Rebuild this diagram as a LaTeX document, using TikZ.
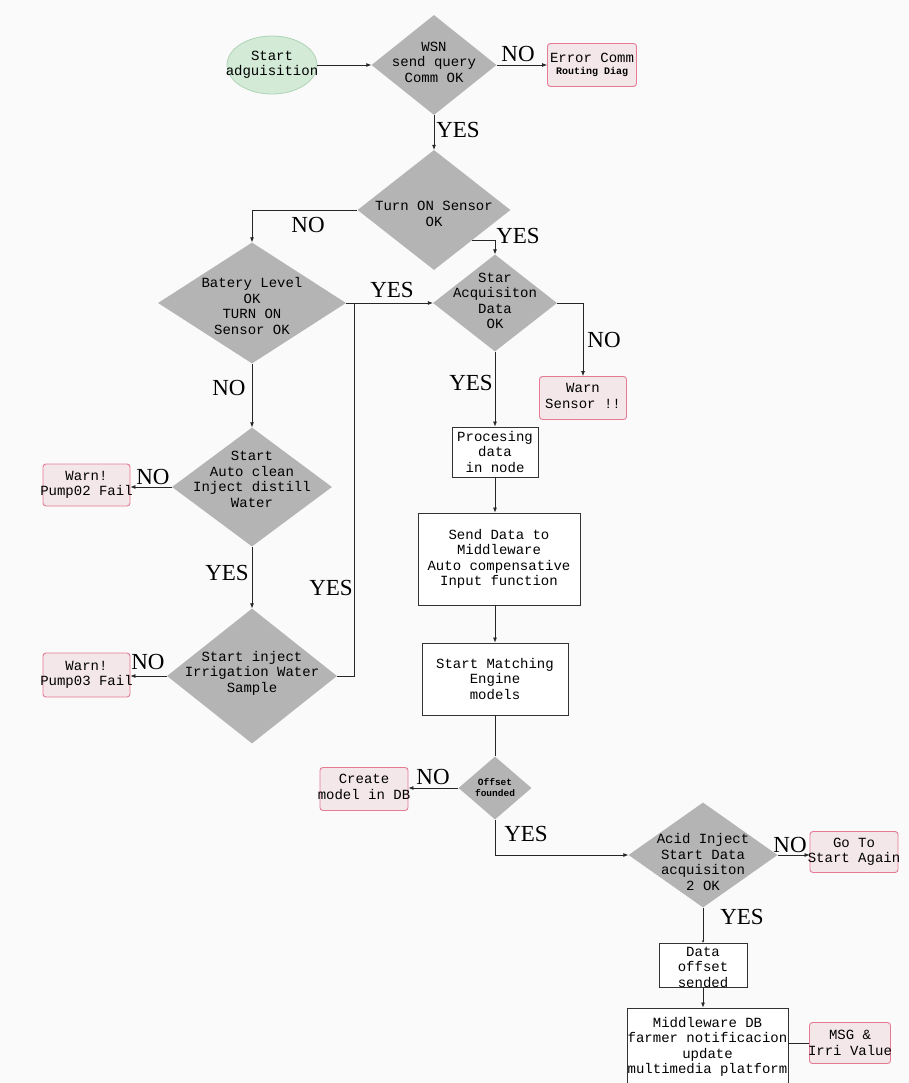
\documentclass[tikz,border=0pt]{standalone}
\usepackage{fontspec}
\usetikzlibrary{shapes.geometric,arrows.meta,calc}
\newfontfamily\monof{Liberation Mono}
\newfontfamily\ynf{Liberation Serif}
\definecolor{diagray}{HTML}{B4B4B4}
\definecolor{pinkb}{HTML}{E57A95}
\definecolor{pinkf}{HTML}{F3E7E9}
\definecolor{greenf}{HTML}{D3EAD7}
\definecolor{greenb}{HTML}{AFD3B8}
\definecolor{bgc}{HTML}{FAFAFA}
\begin{document}
\begin{tikzpicture}[x=1pt,y=-1pt,
  txt/.style={font=\monof\fontsize{14}{15.5}\selectfont, align=center, text=black},
  stxt/.style={font=\monof\fontsize{9.5}{11}\selectfont\bfseries, align=center, text=black},
  dia/.style={diamond, fill=diagray, draw=none, inner sep=0pt},
  pbox/.style={rectangle, rounded corners=3pt, draw=pinkb, fill=pinkf, line width=0.9pt, inner sep=0pt},
  wbox/.style={rectangle, draw=black!80, fill=white, line width=0.9pt, inner sep=0pt},
  yn/.style={font=\ynf\fontsize{23}{23}\selectfont, text=black},
  arr/.style={-{Latex[length=5pt,width=4pt]}, line width=0.7pt, draw=black!85},
  ln/.style={line width=0.7pt, draw=black!85}
]
\fill[bgc] (0,0) rectangle (909,1083);
\useasboundingbox (0,0) rectangle (909,1083);

% nodes
\node[ellipse, fill=greenf, draw=greenb, line width=0.8pt, minimum width=90, minimum height=58, inner sep=0pt,
  label={[txt]center:Start\\adguisition}] (start) at (272,65) {};
\node[dia, minimum width=125, minimum height=100, label={[txt, yshift=3pt]center:WSN\\send query\\Comm OK}] (wsn) at (434,65) {};
\node[pbox, minimum width=89, minimum height=43,
  label={[txt]center:Error Comm\\[-3pt]{\fontsize{10}{11}\selectfont\bfseries Routing Diag}}] (err) at (592,65) {};
\node[dia, minimum width=153, minimum height=120, label={[txt, yshift=-4pt]center:Turn ON Sensor\\OK}] (turn) at (434,210) {};
\node[dia, minimum width=188, minimum height=121, label={[txt, yshift=-3pt]center:Batery Level\\OK\\TURN ON\\Sensor OK}] (bat) at (252,303) {};
\node[dia, minimum width=124, minimum height=97, label={[txt, yshift=2pt]center:Star\\Acquisiton\\Data\\OK}] (star) at (495,303) {};
\node[pbox, minimum width=87, minimum height=43, label={[txt, yshift=2pt]center:Warn\\Sensor !!}] (warns) at (583,398) {};
\node[wbox, minimum width=86, minimum height=50, label={[txt]center:Procesing\\data\\in node}] (proc) at (495,452) {};
\node[wbox, minimum width=162, minimum height=92, label={[txt]center:Send Data to\\Middleware\\Auto compensative\\Input function}] (send) at (499,559) {};
\node[wbox, minimum width=146, minimum height=72, label={[txt]center:Start Matching\\Engine\\models}] (match) at (495,679) {};
\node[dia, minimum width=73, minimum height=63, label={[stxt]center:Offset\\founded}] (off) at (495,788) {};
\node[pbox, minimum width=88, minimum height=43, label={[txt, yshift=2pt]center:Create\\model in DB}] (create) at (364,789) {};
\node[dia, minimum width=149, minimum height=105, label={[txt, yshift=-7pt]center:Acid Inject\\Start Data\\acquisiton\\2 OK}] (acid) at (703,855) {};
\node[pbox, minimum width=88, minimum height=41, label={[txt]center:Go To\\Start Again}] (goto) at (854,852) {};
\node[wbox, minimum width=88, minimum height=44, label={[txt, yshift=-2pt]center:Data\\offset\\sended}] (data) at (703,965) {};
\node[wbox, minimum width=161, minimum height=90, label={[txt, yshift=6pt]center:Middleware DB\\farmer notificacion\\update\\multimedia platform}] (mw) at (707.5,1053) {};
\node[pbox, minimum width=81, minimum height=41, label={[txt]center:MSG \&\\Irri Value}] (msg) at (850,1043) {};
\node[dia, minimum width=160, minimum height=119, label={[txt, yshift=7.5pt]center:Start\\Auto clean\\Inject distill\\Water}] (clean) at (252,487) {};
\node[pbox, minimum width=87, minimum height=42, label={[txt]center:Warn!\\Pump02 Fail}] (p2) at (86.5,485) {};
\node[dia, minimum width=170, minimum height=135, label={[txt, yshift=3pt]center:Start inject\\Irrigation Water\\Sample}] (inj) at (252,676) {};
\node[pbox, minimum width=87, minimum height=44, label={[txt]center:Warn!\\Pump03 Fail}] (p3) at (86.5,675) {};
\coordinate (j) at (354,303);

% connectors
\draw[arr] (start.east) -- (wsn.west);
\draw[arr] (wsn.east) -- (err.west);
\draw[arr] (wsn.south) -- (turn.north);
\draw[arr] (turn.west) -| (bat.north);
\draw[arr] (turn.south east) -| (star.north);
\draw[arr] (bat.east) -- (star.west);
\draw[arr] (star.east) -| (warns.north);
\draw[arr] (star.south) -- (proc.north);
\draw[arr] (proc.south) -- (proc.south |- send.north);
\draw[arr] (proc.south |- send.south) -- (match.north);
\draw[ln] (match.south) -- (off.north);
\draw[arr] (off.west) -- (create.east |- off.west);
\draw[arr] (off.south) |- (acid.west);
\draw[arr] (acid.east) -- (acid.east -| goto.west);
\draw[-{Latex[length=2pt,width=3pt]}, line width=0.7pt, draw=black!85] (acid.south) -- (data.north);
\draw[arr] (data.south) -- (data.south |- mw.north);
\draw[ln] (msg.west) -- (msg.west -| mw.east);
\draw[arr] (bat.south) -- (clean.north);
\draw[arr] (clean.west) -- (p2.east |- clean.west);
\draw[arr] (clean.south) -- (inj.north);
\draw[arr] (inj.west) -- (p3.east |- inj.west);
\draw[ln] (inj.east) -| (j);

% labels
\node[yn] (l1) at (518,54) {NO};
\node[yn] (l2) at (458,130) {YES};
\node[yn] (l3) at (308,225) {NO};
\node[yn] (l4) at (518,236) {YES};
\node[yn] (l5) at (392,290) {YES};
\node[yn] (l6) at (604,340) {NO};
\node[yn] (l7) at (471,383) {YES};
\node[yn] (l8) at (229,388) {NO};
\node[yn] (l9) at (153,477) {NO};
\node[yn] (l10) at (227,573) {YES};
\node[yn] (l11) at (331,588) {YES};
\node[yn] (l12) at (148,662) {NO};
\node[yn] (l13) at (433,777) {NO};
\node[yn] (l14) at (526,834) {YES};
\node[yn] (l15) at (790,845) {NO};
\node[yn] (l16) at (742,917) {YES};
\end{tikzpicture}
\end{document}
